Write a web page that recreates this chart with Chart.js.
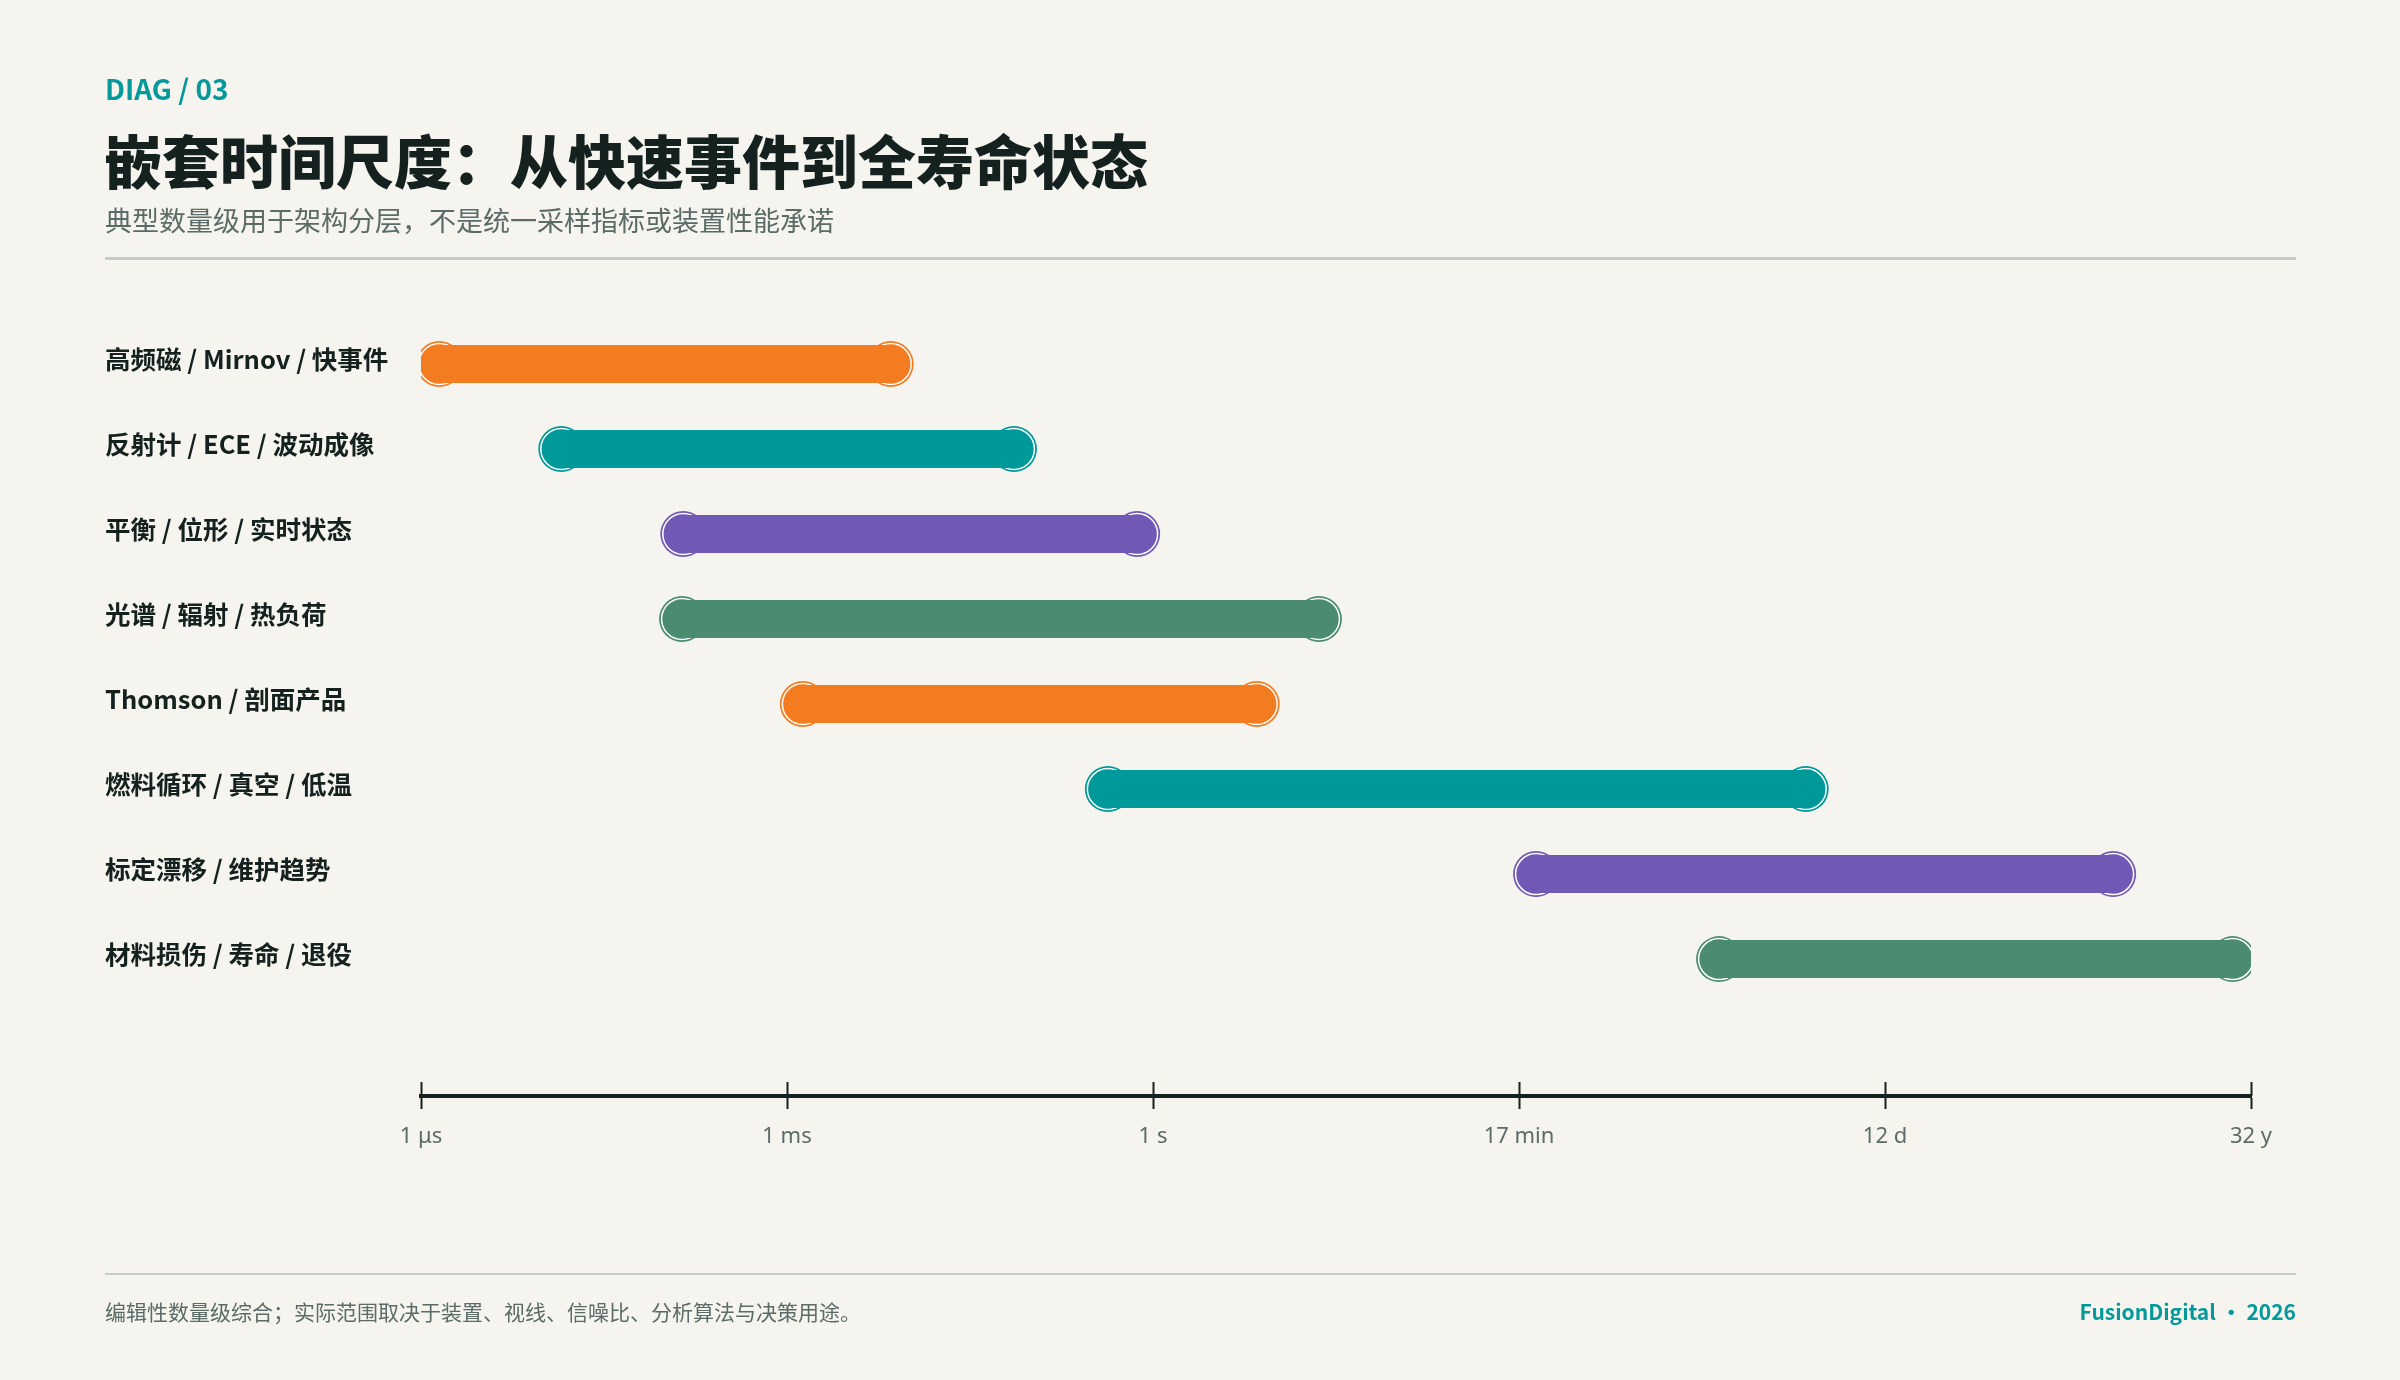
<!DOCTYPE html>
<html lang="zh">
<head>
<meta charset="UTF-8">
<title>嵌套时间尺度</title>
<script src="https://cdn.jsdelivr.net/npm/chart.js"></script>
<style>
    html, body { margin: 0; padding: 0; }
    body {
        width: 2400px; height: 1380px; position: relative; overflow: hidden;
        background: #f5f4ef;
        font-family: "Noto Sans CJK SC", "Noto Sans", sans-serif;
    }
    #timeChart { position: absolute; left: 0; top: 0; }
    .kicker { position: absolute; left: 105px; top: 74px; font-size: 28px; line-height: 28px; font-weight: 700; color: #06999a; }
    .title { position: absolute; left: 104px; top: 130px; font-size: 58px; line-height: 58px; font-weight: 900; color: #14211f; }
    .subtitle { position: absolute; left: 105px; top: 206px; font-size: 27px; line-height: 28px; color: #5b6b67; }
    .rule { position: absolute; left: 105px; width: 2191px; height: 3px; background: #c3ccc6; }
    .note { position: absolute; left: 105px; top: 1301px; font-size: 21px; line-height: 21px; color: #5b6b67; }
    .brand { position: absolute; right: 104px; top: 1301px; font-size: 21px; line-height: 21px; font-weight: 700; color: #06999a; }
</style>
</head>
<body>
    <canvas id="timeChart" width="2400" height="1380"></canvas>
    <div class="kicker">DIAG / 03</div>
    <div class="title">嵌套时间尺度：从快速事件到全寿命状态</div>
    <div class="subtitle">典型数量级用于架构分层，不是统一采样指标或装置性能承诺</div>
    <div class="rule" style="top:257px"></div>
    <div class="rule" style="top:1273px; height:2px"></div>
    <div class="note">编辑性数量级综合；实际范围取决于装置、视线、信噪比、分析算法与决策用途。</div>
    <div class="brand">FusionDigital • 2026</div>

<script>
    // rows, top to bottom
    const rowLabels = [
        '高频磁 / Mirnov / 快事件',
        '反射计 / ECE / 波动成像',
        '平衡 / 位形 / 实时状态',
        '光谱 / 辐射 / 热负荷',
        'Thomson / 剖面产品',
        '燃料循环 / 真空 / 低温',
        '标定漂移 / 维护趋势',
        '材料损伤 / 寿命 / 退役'
    ];
    // time span of each row, log10(seconds)
    const startLog = [-5.85, -4.85, -3.85, -3.86, -2.87, -0.37, 3.14, 4.64];
    const endLog   = [-2.15, -1.14, -0.13,  1.36,  0.85,  5.35, 7.87, 8.85];
    const rowColors = ['#f47c20', '#00999a', '#7058b4', '#4b8c71', '#f47c20', '#00999a', '#7058b4', '#4b8c71'];

    // axis ticks, log10(seconds)
    const tickValues = [-6, -3, 0, 3, 6, 9];
    const tickLabels = ['1 μs', '1 ms', '1 s', '17 min', '12 d', '32 y'];

    const ink = '#14211f';

    const barSets = rowLabels.map((name, i) => ({
        label: name,
        data: [{ x: startLog[i], y: i }, { x: endLog[i], y: i }],
        borderColor: rowColors[i],
        borderWidth: 38,
        borderCapStyle: 'butt',
        pointRadius: 0,
        order: 0
    }));

    const ends = [];
    const endColors = [];
    rowLabels.forEach((name, i) => {
        ends.push({ x: startLog[i], y: i }, { x: endLog[i], y: i });
        endColors.push(rowColors[i], rowColors[i]);
    });

    const innerRing = {
        label: 'ring',
        data: ends,
        showLine: false,
        pointRadius: 20.5,
        pointBackgroundColor: endColors,
        pointBorderColor: '#ffffff',
        pointBorderWidth: 1.5,
        order: 1
    };
    const outerDisc = {
        label: 'disc',
        data: ends,
        showLine: false,
        pointRadius: 23,
        pointBackgroundColor: endColors,
        pointBorderWidth: 0,
        order: 2
    };

    // upper half of the axis tick marks
    const tickMarks = {
        id: 'tickMarks',
        afterDraw(chart) {
            const { ctx, chartArea, scales: { x } } = chart;
            ctx.save();
            ctx.strokeStyle = ink;
            ctx.lineWidth = 2;
            x.ticks.forEach(t => {
                const px = Math.round(x.getPixelForValue(t.value)) + 0.5;
                ctx.beginPath();
                ctx.moveTo(px, chartArea.bottom - 14);
                ctx.lineTo(px, chartArea.bottom);
                ctx.stroke();
            });
            ctx.restore();
        }
    };

    new Chart(document.getElementById('timeChart'), {
        type: 'line',
        data: { datasets: [...barSets, innerRing, outerDisc] },
        options: {
            responsive: false,
            animation: false,
            layout: { padding: { left: 105, right: 149, top: 279, bottom: 204 } },
            plugins: { legend: { display: false }, tooltip: { enabled: false } },
            scales: {
                x: {
                    type: 'linear',
                    min: -6,
                    max: 9,
                    afterBuildTicks: s => { s.ticks = tickValues.map(v => ({ value: v })); },
                    afterFit: s => { s.height = 80; },
                    grid: { drawOnChartArea: false, tickLength: 13, tickWidth: 2, tickColor: ink },
                    border: { display: true, color: ink, width: 4 },
                    ticks: {
                        autoSkip: false,
                        maxRotation: 0,
                        padding: 15,
                        color: '#5b6b67',
                        font: { family: '"Noto Sans", sans-serif', size: 22 },
                        callback: v => tickLabels[tickValues.indexOf(v)]
                    }
                },
                y: {
                    type: 'linear',
                    reverse: true,
                    min: -1,
                    max: 8.61,
                    afterBuildTicks: s => { s.ticks = rowLabels.map((n, i) => ({ value: i })); },
                    afterFit: s => { s.width = 316; },
                    grid: { display: false },
                    border: { display: false },
                    ticks: {
                        crossAlign: 'far',
                        padding: 0,
                        labelOffset: -5,
                        color: ink,
                        font: { family: '"Noto Sans CJK SC", sans-serif', size: 25.5, weight: '700' },
                        callback: v => rowLabels[v]
                    }
                }
            }
        },
        plugins: [tickMarks]
    });
</script>
</body>
</html>
